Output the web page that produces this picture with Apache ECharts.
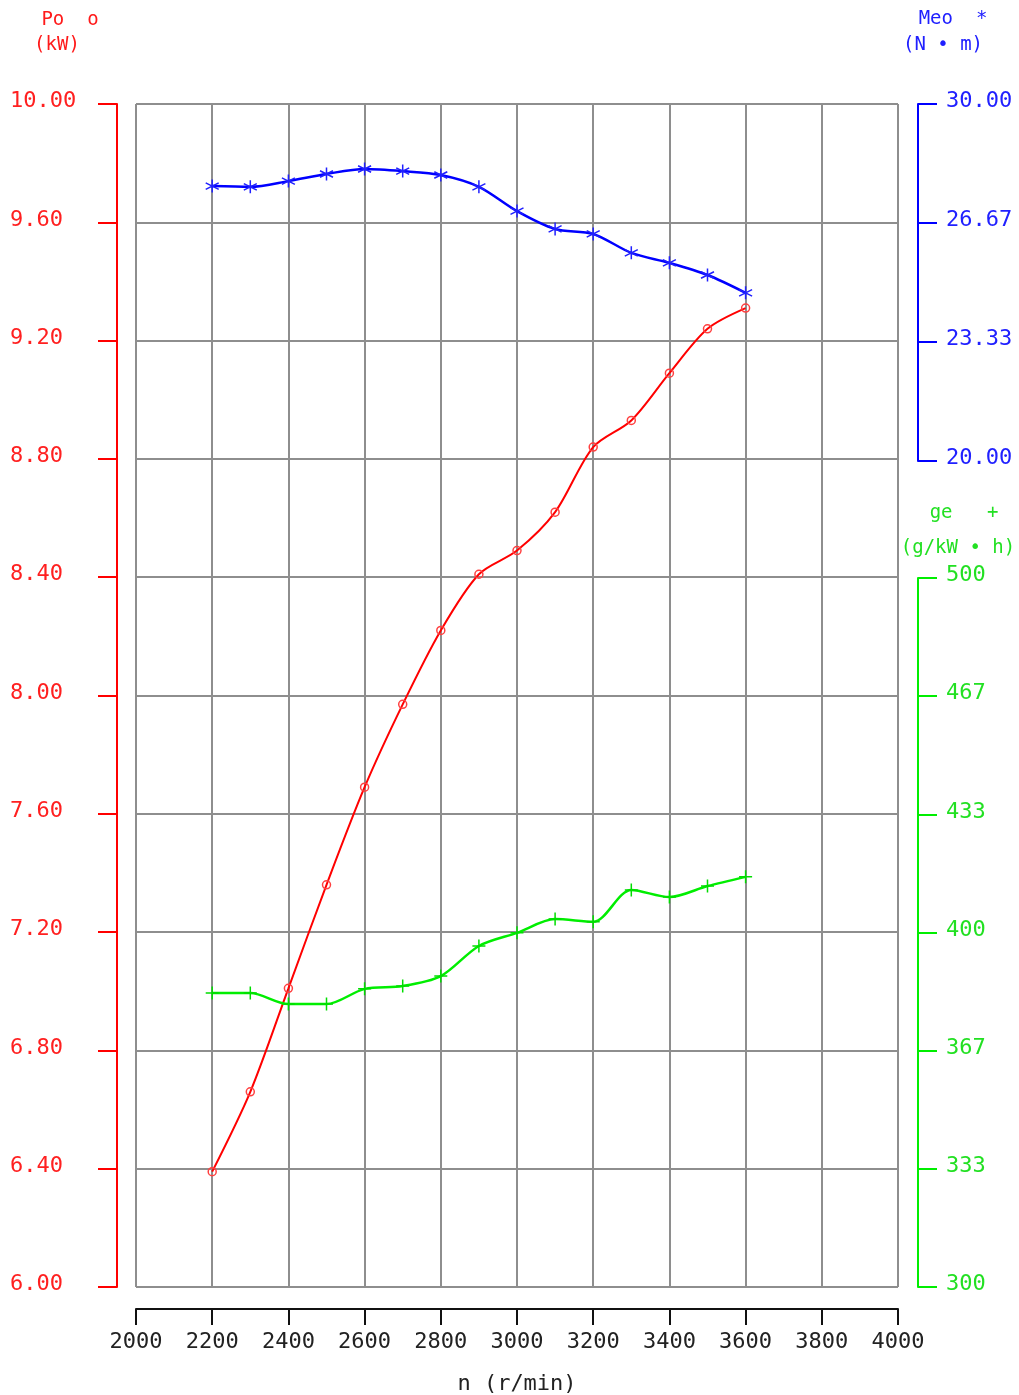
<!DOCTYPE html>
<html>
<head>
<meta charset="utf-8">
<title>Po / Meo / ge - n</title>
<script src="https://cdn.jsdelivr.net/npm/echarts@6/dist/echarts.min.js"></script>
<style>
  html, body { margin: 0; padding: 0; background: #fff; }
  #myChart { width: 1019px; height: 1395px; }
</style>
</head>
<body>
<div id="myChart"></div>
<script>
// 转速 n (r/min)
var speed = [2200, 2300, 2400, 2500, 2600, 2700, 2800, 2900, 3000, 3100, 3200, 3300, 3400, 3500, 3600];
// 功率 Po (kW)
var power = [6.39, 6.66, 7.01, 7.36, 7.69, 7.97, 8.22, 8.41, 8.49, 8.62, 8.84, 8.93, 9.09, 9.24, 9.31];
// 扭矩 Meo (N·m)
var torque = [27.70, 27.68, 27.84, 28.04, 28.18, 28.12, 28.01, 27.68, 27.00, 26.50, 26.36, 25.83, 25.55, 25.21, 24.71];
// 油耗 ge (g/kW·h)
var fuel = [382.9, 382.9, 379.8, 379.8, 384.1, 384.9, 387.7, 396.2, 399.9, 403.8, 403.0, 412.0, 410.0, 413.1, 415.7];

// 坐标轴范围 [min, max, 间隔]
var speedAxis = [2000, 4000, 200];
var powerAxis = [6, 10, 0.4];
var torqueAxis = [20, 30, 10 / 3];
var fuelAxis = [300, 500, 200 / 6];

var FONT = '"DejaVu Sans Mono", monospace';
var GRID_GREY = '#8e8e8e';

function pairs(vals) {
  return speed.map(function (s, i) { return [s, vals[i]]; });
}

// 隐藏的x轴（给蓝、绿两条线用）
function hiddenX(gridIndex) {
  return {
    gridIndex: gridIndex, type: 'value',
    min: speedAxis[0], max: speedAxis[1], interval: speedAxis[2],
    show: false
  };
}

function label(text, x, y, color) {
  return {
    type: 'text', x: x, y: y,
    style: { text: text, fill: color, font: '19px ' + FONT, align: 'center', verticalAlign: 'middle' }
  };
}

var myChart = echarts.init(document.getElementById('myChart'));
myChart.setOption({
  animation: false,
  backgroundColor: '#fff',
  textStyle: { fontFamily: FONT },
  grid: [
    { left: 136, right: 121, top: 104, bottom: 108, outerBoundsMode: 'none' },   // 主网格 + 红轴
    { left: 136, right: 121, top: 104, height: 357, outerBoundsMode: 'none' },   // 蓝轴
    { left: 136, right: 121, top: 578, height: 709, outerBoundsMode: 'none' }    // 绿轴
  ],
  graphic: [
    label('Po  o', 70, 20, '#ff1a1a'),
    label('(kW)', 57, 45, '#ff1a1a'),
    label('Meo  *', 953, 19, '#2020ff'),
    label('(N \u2022 m)', 943, 45, '#2020ff'),
    label('ge   +', 964, 513, '#22e022'),
    label('(g/kW \u2022 h)', 958, 548, '#22e022')
  ],
  xAxis: [
    {
      gridIndex: 0, type: 'value',
      min: speedAxis[0], max: speedAxis[1], interval: speedAxis[2],
      position: 'bottom', offset: 22,
      name: 'n (r/min)', nameLocation: 'middle', nameGap: 64,
      nameTextStyle: { color: '#222', fontSize: 22, fontFamily: FONT },
      axisLine: { show: true, lineStyle: { color: '#111', width: 2 } },
      axisTick: { show: true, length: 16, lineStyle: { color: '#111', width: 2 } },
      axisLabel: {
        color: '#222', fontSize: 22, fontFamily: FONT, margin: 22,
        formatter: function (v) { return String(v); }
      },
      splitLine: { show: true, lineStyle: { color: GRID_GREY, width: 2 } }
    },
    hiddenX(1),
    hiddenX(2)
  ],
  yAxis: [
    {
      gridIndex: 0, type: 'value', position: 'left', offset: 19,
      min: powerAxis[0], max: powerAxis[1], interval: powerAxis[2],
      axisLine: { show: true, lineStyle: { color: '#ff0000', width: 2 } },
      axisTick: { show: true, length: 19, lineStyle: { color: '#ff0000', width: 2 } },
      axisLabel: {
        color: '#ff2020', fontSize: 22, fontFamily: FONT,
        align: 'left', margin: 107, verticalAlign: 'bottom', lineHeight: 5,
        formatter: function (v) { return v.toFixed(2); }
      },
      splitLine: { show: true, lineStyle: { color: GRID_GREY, width: 2 } }
    },
    {
      gridIndex: 1, type: 'value', position: 'right', offset: 20,
      min: torqueAxis[0], max: torqueAxis[1], interval: torqueAxis[2],
      axisLine: { show: true, lineStyle: { color: '#0000ff', width: 2 } },
      axisTick: { show: true, length: 19, lineStyle: { color: '#0000ff', width: 2 } },
      axisLabel: {
        color: '#2020ff', fontSize: 22, fontFamily: FONT,
        margin: 28, verticalAlign: 'bottom', lineHeight: 5,
        formatter: function (v) { return v.toFixed(2); }
      },
      splitLine: { show: false }
    },
    {
      gridIndex: 2, type: 'value', position: 'right', offset: 20,
      min: fuelAxis[0], max: fuelAxis[1], interval: fuelAxis[2],
      axisLine: { show: true, lineStyle: { color: '#00ee00', width: 2 } },
      axisTick: { show: true, length: 19, lineStyle: { color: '#00ee00', width: 2 } },
      axisLabel: {
        color: '#22e022', fontSize: 22, fontFamily: FONT,
        margin: 28, verticalAlign: 'bottom', lineHeight: 5,
        formatter: function (v) { return Math.round(v).toString(); }
      },
      splitLine: { show: false }
    }
  ],
  series: [
    {
      name: 'Po', type: 'line', xAxisIndex: 0, yAxisIndex: 0,
      data: pairs(power), smooth: 0.3,
      symbol: 'circle', symbolSize: 8,
      lineStyle: { color: '#ff0000', width: 2 },
      itemStyle: { color: 'rgba(0,0,0,0)', borderColor: '#ff4040', borderWidth: 1.5 }
    },
    {
      name: 'Meo', type: 'line', xAxisIndex: 1, yAxisIndex: 1,
      data: pairs(torque), smooth: 0.3,
      symbol: 'path://M5,0 L5,10 M0.7,2.5 L9.3,7.5 M0.7,7.5 L9.3,2.5', symbolSize: 13,
      lineStyle: { color: '#0000ff', width: 2.5 },
      itemStyle: { color: 'rgba(0,0,0,0)', borderColor: '#2020ff', borderWidth: 1.5 }
    },
    {
      name: 'ge', type: 'line', xAxisIndex: 2, yAxisIndex: 2,
      data: pairs(fuel), smooth: 0.3,
      symbol: 'path://M5,0 L5,10 M0,5 L10,5', symbolSize: 13,
      lineStyle: { color: '#00ee00', width: 2.5 },
      itemStyle: { color: 'rgba(0,0,0,0)', borderColor: '#00dd00', borderWidth: 1.5 }
    }
  ]
});
</script>
</body>
</html>
